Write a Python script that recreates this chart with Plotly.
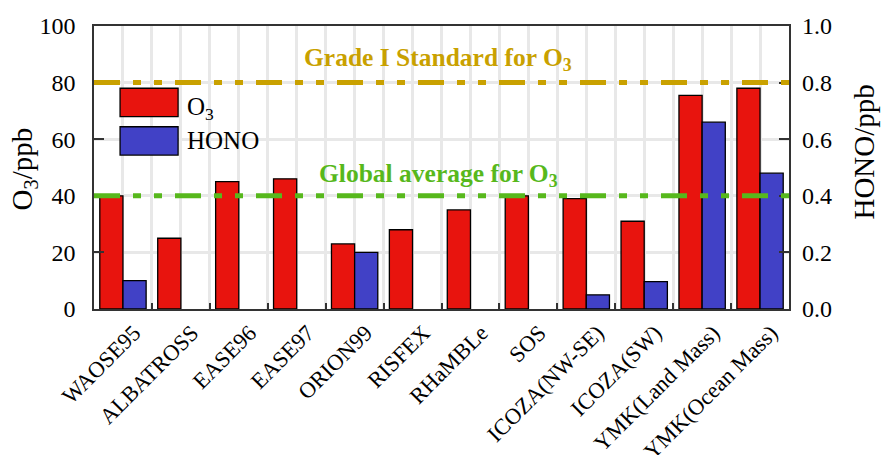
import plotly.graph_objects as go
import numpy as np

categories = ["WAOSE95", "ALBATROSS", "EASE96", "EASE97", "ORION99", "RISFEX",
              "RHaMBLe", "SOS", "ICOZA(NW-SE)", "ICOZA(SW)", "YMK(Land Mass)", "YMK(Ocean Mass)"]
o3 = [40, 25, 45, 46, 23, 28, 35, 40, 39, 31, 75.5, 78]
hono = [0.10, None, None, None, 0.20, None, None, None, 0.05, 0.097, 0.66, 0.48]
grade1_std = 80
global_avg = 40
o3_ticks = [0, 20, 40, 60, 80, 100]
hono_ticks = [0.0, 0.2, 0.4, 0.6, 0.8, 1.0]

x = np.arange(len(categories))
FONT = "Liberation Serif"
RED = "#E8140E"
BLUE = "#4141C6"
GOLD = "#C9A100"
GREEN = "#57B81C"
DASH = "26px,13px,8px,13px,8px,13px"

fig = go.Figure()
fig.add_trace(go.Bar(x=x, y=o3, name="O<sub>3</sub>", width=0.4, offset=-0.4,
                     marker=dict(color=RED, line=dict(color="black", width=1.3)),
                     yaxis="y"))
fig.add_trace(go.Bar(x=x, y=hono, name="HONO", width=0.4, offset=0.0,
                     marker=dict(color=BLUE, line=dict(color="black", width=1.3)),
                     yaxis="y2"))

# reference lines
fig.add_shape(type="line", xref="paper", x0=0, x1=1, yref="y", y0=grade1_std, y1=grade1_std,
              line=dict(color=GOLD, width=5, dash=DASH), layer="above")
fig.add_shape(type="line", xref="paper", x0=0, x1=1, yref="y", y0=global_avg, y1=global_avg,
              line=dict(color=GREEN, width=5, dash=DASH), layer="above")

fig.add_annotation(text="<b>Grade I Standard for O<sub>3</sub></b>", xref="paper", x=0.495,
                   yref="y", y=88.5, showarrow=False,
                   font=dict(family=FONT, size=25.5, color=GOLD))
fig.add_annotation(text="<b>Global average for O<sub>3</sub></b>", xref="paper", x=0.495,
                   yref="y", y=47.5, showarrow=False,
                   font=dict(family=FONT, size=25.5, color=GREEN))

# axis titles
fig.add_annotation(text="O<sub>3</sub>/ppb", xref="paper", yref="paper", x=-0.101, y=0.496,
                   textangle=-90, showarrow=False, xanchor="center", yanchor="middle",
                   font=dict(family=FONT, size=29, color="black"))
fig.add_annotation(text="HONO/ppb", xref="paper", yref="paper", x=1.1065, y=0.553,
                   textangle=-90, showarrow=False, xanchor="center", yanchor="middle",
                   font=dict(family=FONT, size=29, color="black"))

# custom legend (large swatches)
leg = [("O<sub>3</sub>", RED, 0.730, 0.022), ("HONO", BLUE, 0.594, 0.0)]
for label, col, yc, dy in leg:
    fig.add_shape(type="rect", xref="paper", yref="paper", x0=0.0375, x1=0.121,
                  y0=yc - 0.05, y1=yc + 0.05, fillcolor=col,
                  line=dict(color="black", width=1.3), layer="above")
    fig.add_annotation(text=label, xref="paper", yref="paper", x=0.131, y=yc - dy,
                       xanchor="left", yanchor="middle", showarrow=False,
                       font=dict(family=FONT, size=25, color="black"))

fig.update_layout(
    width=881, height=455,
    margin=dict(l=94, r=92, t=26, b=146),
    paper_bgcolor="white", plot_bgcolor="white",
    showlegend=False,
    font=dict(family=FONT, size=24, color="black"),
    xaxis=dict(range=[-0.5, len(categories) - 0.5], tickvals=x, ticktext=categories,
               tickangle=-45, ticks="", showgrid=True, gridcolor="#E8E8E8", gridwidth=3,
               showline=True, linecolor="#333", linewidth=1.5, mirror=True,
               tickfont=dict(family=FONT, size=22.5), automargin=False, ticklabelshift=11,
               minor=dict(tickvals=list(x[:-1] + 0.5), ticks="inside", ticklen=6,
                          tickcolor="#333", tickwidth=1.5, showgrid=True,
                          gridcolor="#E8E8E8", gridwidth=3),
               zeroline=False),
    yaxis=dict(range=[0, 100], tickvals=o3_ticks, ticks="inside", ticklen=10,
               tickcolor="#333", tickwidth=1.5, automargin=False, ticklabelstandoff=12,
               showgrid=True, gridcolor="#E8E8E8", gridwidth=3, zeroline=False,
               showline=True, linecolor="#333", linewidth=1.5, mirror=True,
               tickfont=dict(family=FONT, size=24)),
    yaxis2=dict(range=[0, 1], tickvals=hono_ticks, tickformat=".1f", overlaying="y", side="right",
                ticks="inside", ticklen=10, tickcolor="#333", tickwidth=1.5, automargin=False,
                ticklabelstandoff=12,
                showgrid=False, zeroline=False, showline=False,
                tickfont=dict(family=FONT, size=24)),
)

fig.write_html("out.html", config={"displayModeBar": False},
               post_script="document.body.style.margin='0';window.dispatchEvent(new Event('resize'));")
